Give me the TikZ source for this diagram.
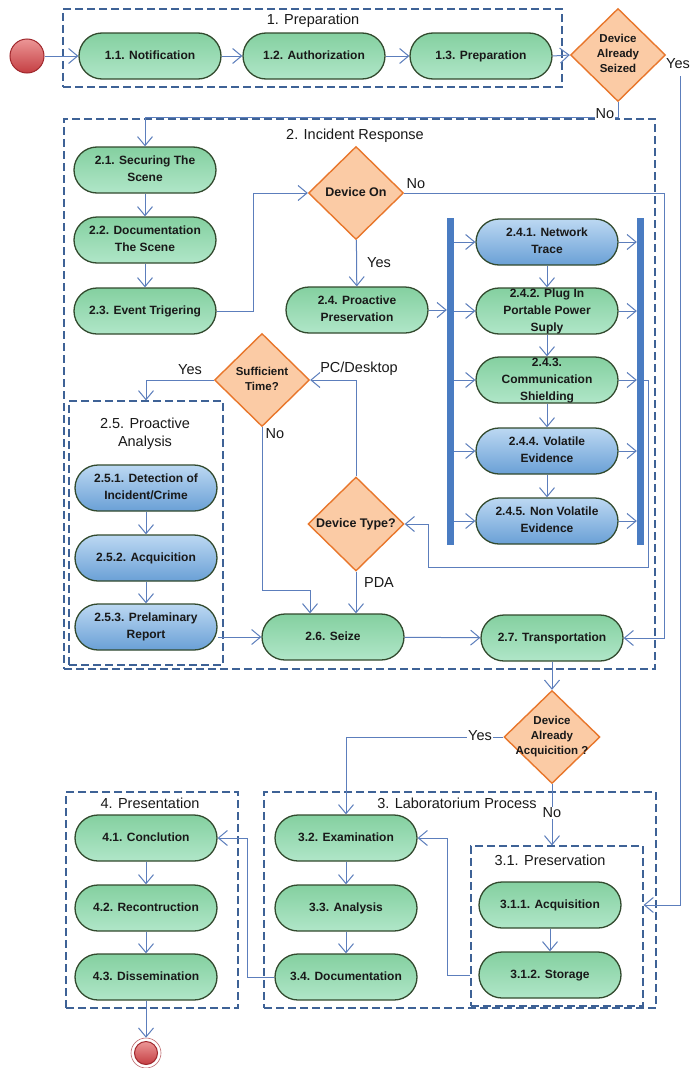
\documentclass[tikz,border=0pt]{standalone}
\usepackage{fontspec}
\setmainfont{Liberation Sans}
\usetikzlibrary{arrows.meta,shapes.geometric,calc}
\definecolor{gtop}{RGB}{132,208,160}
\definecolor{gbot}{RGB}{176,230,200}
\definecolor{btop}{RGB}{188,216,242}
\definecolor{bbot}{RGB}{106,160,214}
\definecolor{nodeborder}{RGB}{50,74,46}
\definecolor{dfill}{RGB}{251,203,165}
\definecolor{dborder}{RGB}{232,118,43}
\definecolor{boxline}{RGB}{62,98,150}
\definecolor{conn}{RGB}{92,126,188}
\definecolor{barcol}{RGB}{74,124,194}
\definecolor{txt}{RGB}{25,25,25}
\definecolor{redtop}{RGB}{236,150,150}
\definecolor{redbot}{RGB}{196,62,66}
\definecolor{redline}{RGB}{160,40,45}
\newcommand{\ntxt}[1]{\makebox[0pt]{\smash{\raisebox{-0.25em}{\begin{tabular}{@{}c@{}}#1\end{tabular}}}}}
\begin{document}
\begin{tikzpicture}[x=1pt,y=-1pt,
  act/.style={rectangle, rounded corners=23pt, draw=nodeborder, line width=1.3pt,
    minimum width=142pt, minimum height=46pt, inner sep=0pt, text=txt,
    font=\bfseries\fontsize{12}{17}\selectfont},
  gact/.style={act, top color=gtop, bottom color=gbot},
  bact/.style={act, top color=btop, bottom color=bbot},
  dec/.style={diamond, draw=dborder, fill=dfill, line width=1.4pt, inner sep=0pt,
    minimum width=95pt, minimum height=93pt, text=txt,
    font=\bfseries\fontsize{11.5}{15}\selectfont},
  decbig/.style={dec, font=\bfseries\fontsize{12.5}{15}\selectfont},
  grp/.style={rectangle, draw=boxline, dash pattern=on 8pt off 4pt, line width=1.2pt, inner sep=0pt},
  forkbar/.style={rectangle, fill=barcol, minimum width=7pt, minimum height=327pt, inner sep=0pt},
  ttl/.style={font=\fontsize{14.5}{18}\selectfont, text=txt, align=center, inner sep=0pt},
  lab/.style={font=\fontsize{14.5}{17}\selectfont, text=txt, inner sep=1pt},
  labw/.style={lab, fill=white},
  arr/.style={draw=conn, line width=1pt, -{Straight Barb[length=9pt,width=15pt]}},
  ln/.style={draw=conn, line width=1pt}
]
\fill[white] (0,0) rectangle (689,1068);
\useasboundingbox (0,0) rectangle (689,1068);

% group boxes
\node[grp, minimum width=499pt, minimum height=78pt] (b1) at (312.5,48) {};
\node[grp, minimum width=591pt, minimum height=550pt] (b2) at (359.5,394) {};
\node[grp, minimum width=154pt, minimum height=264pt] (b25) at (146,533) {};
\node[grp, minimum width=392pt, minimum height=216pt] (b3) at (460,900) {};
\node[grp, minimum width=172pt, minimum height=160pt] (b31) at (557,926) {};
\node[grp, minimum width=172pt, minimum height=216pt] (b4) at (152,900) {};

% titles
\node[ttl] (t1) at (313,21) {1. Preparation};
\node[ttl] (t2) at (355,136) {2. Incident Response};
\node[ttl] (t25) at (145,434) {2.5. Proactive\\Analysis};
\node[ttl] (t3) at (457,803) {3. Laboratorium Process};
\node[ttl] (t31) at (550,860) {3.1. Preservation};
\node[ttl] (t4) at (150,803) {4. Presentation};

% start / end
\node[circle, minimum size=34pt, inner sep=0pt, draw=redline, line width=1pt, top color=redtop, bottom color=redbot] (start) at (27,56) {};
\node[circle, minimum size=30pt, inner sep=0pt, draw=redline!70, line width=0.6pt] (endo) at (146,1053) {};
\node[circle, minimum size=23pt, inner sep=0pt, draw=redline, line width=1pt, top color=redtop, bottom color=redbot] (endi) at (146,1053) {};

% 1. Preparation
\node[gact] (n11) at (150,56) {\ntxt{1.1. Notification}};
\node[gact] (n12) at (314,56) {\ntxt{1.2. Authorization}};
\node[gact] (n13) at (481,56) {\ntxt{1.3. Preparation}};
\node[dec] (d1) at (618,55) {\ntxt{Device\\Already\\Seized}};

% 2. Incident response
\node[gact] (n21) at (145,170) {\ntxt{2.1. Securing The\\Scene}};
\node[gact] (n22) at (145,240) {\ntxt{2.2. Documentation\\The Scene}};
\node[gact] (n23) at (145,311) {\ntxt{2.3. Event Trigering}};
\node[decbig] (d2) at (356,193) {\ntxt{Device On}};
\node[gact] (n24) at (357,310) {\ntxt{2.4. Proactive\\Preservation}};
\node[forkbar] (barL) at (450.5,381.5) {};
\node[forkbar] (barR) at (640.5,381.5) {};
\node[bact] (n241) at (547,242) {\ntxt{2.4.1. Network\\Trace}};
\node[gact] (n242) at (547,311) {\ntxt{2.4.2. Plug In\\Portable Power\\Suply}};
\node[gact] (n243) at (547,380) {\ntxt{2.4.3.\\Communication\\Shielding}};
\node[bact] (n244) at (547,451) {\ntxt{2.4.4. Volatile\\Evidence}};
\node[bact] (n245) at (547,521) {\ntxt{2.4.5. Non Volatile\\Evidence}};
\node[dec] (d3) at (262,380) {\ntxt{Sufficient\\Time?}};
\node[bact] (n251) at (146,488) {\ntxt{2.5.1. Detection of\\Incident/Crime}};
\node[bact] (n252) at (146,558) {\ntxt{2.5.2. Acquicition}};
\node[bact] (n253) at (146,627) {\ntxt{2.5.3. Prelaminary\\Report}};
\node[decbig, minimum width=96pt, minimum height=94pt] (d4) at (356,524) {\ntxt{Device Type?}};
\node[gact] (n26) at (333,637) {\ntxt{2.6. Seize}};
\node[gact] (n27) at (552,638) {\ntxt{2.7. Transportation}};

% decision after transport
\node[dec, minimum width=96pt] (d5) at (552,737) {\ntxt{Device\\Already\\Acquicition ?}};

% 3. Laboratory
\node[gact] (n311) at (550,905) {\ntxt{3.1.1. Acquisition}};
\node[gact] (n312) at (550,975) {\ntxt{3.1.2. Storage}};
\node[gact] (n32) at (346,838) {\ntxt{3.2. Examination}};
\node[gact] (n33) at (346,908) {\ntxt{3.3. Analysis}};
\node[gact] (n34) at (346,977) {\ntxt{3.4. Documentation}};

% 4. Presentation
\node[gact] (n41) at (146,838) {\ntxt{4.1. Conclution}};
\node[gact] (n42) at (146,908) {\ntxt{4.2. Recontruction}};
\node[gact] (n43) at (146,977) {\ntxt{4.3. Dissemination}};

% connectors
\draw[arr] (start.east) -- (n11.west);
\draw[arr] (n11) -- (n12);
\draw[arr] (n12) -- (n13);
\draw[arr] (n13.east) -- (d1.west);
\draw[arr] (d1.south) |- ($(n21.north)+(0,-29)$) -- (n21.north);
\node[labw] (lno1) at (605,114) {No};
\node[lab] (lyes1) at (678,64) {Yes};
\coordinate (ry) at (680,76);
\draw[arr] (ry) |- (b31.east |- n311);

\draw[arr] (n21) -- (n22);
\draw[arr] (n22) -- (n23);
\draw[arr] (n23.east) -- ++(37,0) |- (d2.west);
\draw[arr] (d2) -- (n24);
\node[lab] (lyes2) at (379,263) {Yes};
\draw[arr] (d2.east) -- ++(260,0) |- (n27.east);
\node[lab] (lno2) at (416,184) {No};
\draw[arr] (n24.east) -- (barL.west |- n24.east);
\foreach \n in {n241,n242,n243,n244,n245}{
  \draw[arr] (barL.east |- \n) -- (\n.west);
  \draw[arr] (\n.east) -- (barR.west |- \n);
}
\draw[arr] (n241) -- (n242);
\draw[arr] (n242) -- (n243);
\draw[arr] (n243) -- (n244);
\draw[arr] (n244) -- (n245);
\draw[arr] (barR.east |- n243) -- ++(4,0) -- ++(0,187) -| ($(d4.east)+(24,0)$) -- (d4.east);
\draw[arr] (d4.north) |- (d3.east);
\node[lab] (lpc) at (359,369) {PC/Desktop};
\draw[arr] (d3.west) -| (b25.north);
\node[lab] (lyes3) at (190,370) {Yes};
\draw[arr] (d3.south) -- ++(0,163) -| ($(n26.north)+(-23,0)$);
\node[lab] (lno3) at (275,434) {No};
\draw[arr] (d4.south) -- (d4.south |- n26.north);
\node[lab] (lpda) at (379,583) {PDA};
\draw[arr] (n251) -- (n252);
\draw[arr] (n252) -- (n253);
\draw[arr] (n253.east |- n26.west) -- (n26.west);
\draw[arr] (n26) -- (n27);
\draw[arr] (n27.south) -- (d5.north);
\draw[arr] (d5.west) -| (n32.north);
\node[labw] (lyes5) at (480,736) {Yes};
\draw[arr] (d5.south) -- (d5.south |- b31.north);
\node[labw] (lno5) at (552,813) {No};

\draw[arr] (n311) -- (n312);
\draw[arr] (n32) -- (n33);
\draw[arr] (n33) -- (n34);
\draw[arr] (b31.west |- n312) -- ++(-23,0) |- (n32.east);
\draw[arr] (n34.west) -- ++(-27,0) |- (n41.east);
\draw[arr] (n41) -- (n42);
\draw[arr] (n42) -- (n43);
\draw[arr] (n43.south) -- (endo.north);
\end{tikzpicture}
\end{document}
